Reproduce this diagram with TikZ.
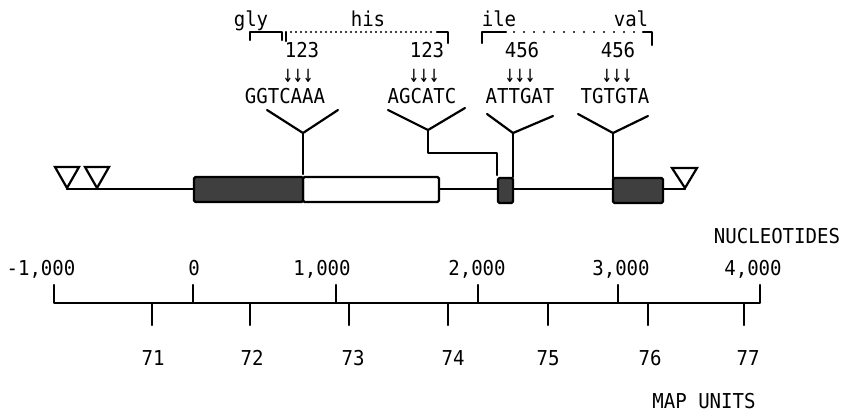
\documentclass[tikz,border=0pt]{standalone}
\usepackage{fontspec}
\setmonofont[FakeStretch=0.93]{DejaVu Sans Mono}
\newfontfamily\arrowfont[FakeStretch=0.9]{DejaVu Sans Mono}
\definecolor{boxdark}{HTML}{3F3F3F}
\newcommand{\downarrs}{\scalebox{1.1}[1.45]{↓↓↓}}
\begin{document}
\begin{tikzpicture}[x=1pt,y=-1pt,
  lab/.style={font=\ttfamily\fontsize{20.5}{21}\selectfont, inner sep=0pt, anchor=base},
  arr/.style={font=\arrowfont\fontsize{17}{18}\selectfont, inner sep=0pt, anchor=base},
  ln/.style={line width=2.2pt, line cap=round, line join=round},
  dotsA/.style={line width=2.2pt, line cap=round, dash pattern=on 0pt off 5pt},
  dotsB/.style={line width=2.2pt, line cap=round, dash pattern=on 0pt off 10pt},
  tri/.style={line width=2.2pt, line join=miter, fill=white},
  exon/.style={line width=2.2pt, rounded corners=1.5pt, fill=boxdark},
]
\useasboundingbox (0,0) rectangle (850,412);

% ---- top labels ----
\node[lab] (gly) at (251,27) {gly};
\node[lab] (his) at (368,27) {his};
\node[lab] (ile) at (499,27) {ile};
\node[lab] (val) at (631,27) {val};

% brackets
\draw[ln] (250,40) -- (250,32) -- (282,32) -- (282,40);
\draw[ln] (286,41) -- (286,32);
\draw[dotsA] (291,32) -- (435,32);
\draw[ln] (437,32) -- (448,32) -- (448,43);
\draw[ln] (482,43) -- (482,32) -- (506,32);
\draw[dotsB] (514,32) -- (640,32);
\draw[ln] (643,32) -- (652,32) -- (652,45);

% numbers, arrows, sequences
\node[lab] (n1) at (302,58) {123};
\node[lab] (n2) at (427,58) {123};
\node[lab] (n3) at (522,58) {456};
\node[lab] (n4) at (618,58) {456};
\node[arr] (a1) at (298,82) {\downarrs};
\node[arr] (a2) at (424,82) {\downarrs};
\node[arr] (a3) at (520,82) {\downarrs};
\node[arr] (a4) at (617,82) {\downarrs};
\node[lab] (s1) at (285,103) {GGTCAAA};
\node[lab] (s2) at (422,103) {AGCATC};
\node[lab] (s3) at (520,103) {ATTGAT};
\node[lab] (s4) at (615,103) {TGTGTA};

% ---- gene map ----
\draw[ln] (67,189) -- (685,189);
\draw[tri] (55,167) -- (79,167) -- (67,188) -- cycle;
\draw[tri] (85,167) -- (109,167) -- (97,188) -- cycle;
\draw[tri] (672,168) -- (697,168) -- (685,188) -- cycle;

\draw[line width=2.2pt, rounded corners=1.5pt, fill=white] (303,177) rectangle (439,202);
\draw[exon] (194,177) rectangle (303,202);
\draw[exon] (498,178) rectangle (513,203);
\draw[exon] (613,178) rectangle (663,203);

% Y connectors
\coordinate (j1) at (303,133);
\coordinate (j2) at (428,130);
\coordinate (j3) at (513,133);
\coordinate (j4) at (613,133);
\draw[ln] (267,110) -- (j1) -- (338,110);
\draw[ln] (j1) -- (303,174);
\draw[ln] (388,110) -- (j2) -- (465,108);
\draw[ln] (j2) -- (428,153) -- (497,153) -- (497,175);
\draw[ln] (487,114) -- (j3) -- (553,116);
\draw[ln] (j3) -- (513,177);
\draw[ln] (578,114) -- (j4) -- (648,116);
\draw[ln] (j4) -- (613,178);

% ---- scale ----
\node[lab] (nuc) at (777,243) {NUCLEOTIDES};
\draw[ln] (54,285) -- (54,303) -- (760,303) -- (760,285);
\foreach \x in {193,336,478,618} \draw[ln] (\x,285) -- (\x,303);
\foreach \x in {152,250,349,448,548,648,744} \draw[ln] (\x,303) -- (\x,325);
\node[lab] (k0) at (41,275) {-1,000};
\node[lab] (k1) at (194,275) {0};
\node[lab] (k2) at (322,275) {1,000};
\node[lab] (k3) at (477,275) {2,000};
\node[lab] (k4) at (621,275) {3,000};
\node[lab] (k5) at (753,275) {4,000};
\node[lab] (m71) at (153,365) {71};
\node[lab] (m72) at (252,365) {72};
\node[lab] (m73) at (353,365) {73};
\node[lab] (m74) at (453,365) {74};
\node[lab] (m75) at (548,365) {75};
\node[lab] (m76) at (650,365) {76};
\node[lab] (m77) at (748,365) {77};
\node[lab] (mu) at (704,408) {MAP UNITS};
\end{tikzpicture}
\end{document}
